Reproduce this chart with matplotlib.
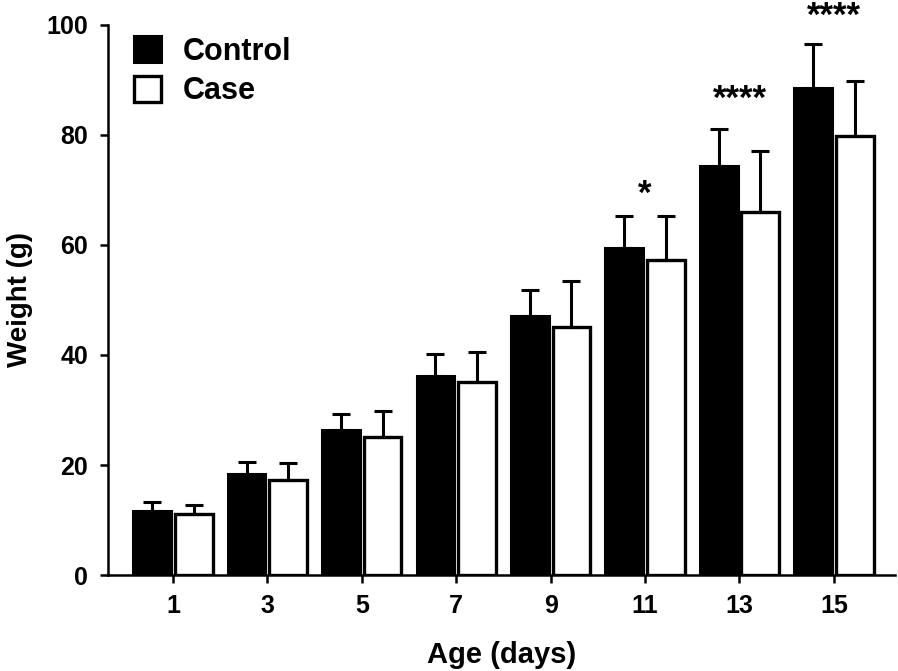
import matplotlib
matplotlib.use("Agg")
import matplotlib.pyplot as plt
import numpy as np

days = ["1", "3", "5", "7", "9", "11", "13", "15"]
control = [11.6, 18.4, 26.4, 36.2, 47.1, 59.5, 74.4, 88.5]
control_err = [1.7, 2.1, 2.9, 4.0, 4.7, 5.8, 6.7, 8.0]
case = [11.1, 17.3, 25.1, 35.1, 45.1, 57.3, 66.0, 79.8]
case_err = [1.6, 3.1, 4.7, 5.4, 8.4, 8.0, 11.1, 10.0]
stars = {5: ("*", 69.2), 6: ("****", 86.5), 7: ("****", 101.5)}

narrow = ["Liberation Sans Narrow", "Liberation Sans", "DejaVu Sans"]
wide = ["Liberation Sans", "DejaVu Sans"]

fig = plt.figure(figsize=(8.98, 6.71), dpi=100)
ax = fig.add_axes([0.120, 0.143, 0.877, 0.820])

x = np.arange(len(days))
w = 0.40
off = 0.22
err_kw = dict(ecolor="black", elinewidth=2.2, capsize=6.5, capthick=2.2)
ax.bar(x - off, control, w, color="black", edgecolor="black", linewidth=2.2,
       yerr=[np.zeros(len(x)), control_err], error_kw=err_kw, label="Control", zorder=2)
ax.bar(x + off, case, w, color="white", edgecolor="black", linewidth=2.4,
       yerr=[np.zeros(len(x)), case_err], error_kw=err_kw, label="Case", zorder=2)

for i, (s, yv) in stars.items():
    ax.text(x[i], yv, s, ha="center", va="center", fontsize=25, fontweight="bold",
            family=wide, clip_on=False)

ax.set_xlim(-0.69, 7.65)
ax.set_ylim(0, 100)
ax.set_xticks(x)
ax.set_xticklabels(days)
ax.set_yticks([0, 20, 40, 60, 80, 100])

for s in ["top", "right"]:
    ax.spines[s].set_visible(False)
for s in ["left", "bottom"]:
    ax.spines[s].set_linewidth(1.8)
ax.tick_params(width=1.8, length=6, direction="out", pad=8)
for lab in ax.get_xticklabels() + ax.get_yticklabels():
    lab.set_family(narrow)
    lab.set_fontweight("bold")
    lab.set_fontsize(18)

ax.set_xlabel("Age (days)", fontsize=21, fontweight="bold", family=narrow, labelpad=16)
ax.set_ylabel("Weight (g)", fontsize=20, fontweight="bold", family=narrow, labelpad=10)

leg = ax.legend(loc="upper left", bbox_to_anchor=(-0.002, 1.03), frameon=False,
                handlelength=0.9, handleheight=0.95, handletextpad=0.7,
                labelspacing=0.3, prop={"family": wide, "weight": "bold", "size": 22})

fig.savefig("out.png", dpi=100)
